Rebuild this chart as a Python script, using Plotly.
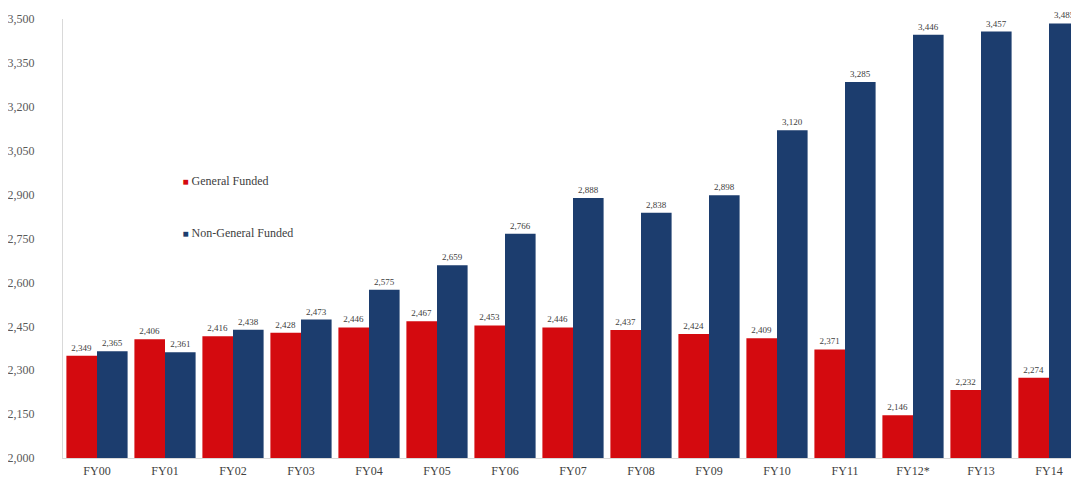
import plotly.graph_objects as go

categories = ["FY00", "FY01", "FY02", "FY03", "FY04", "FY05", "FY06", "FY07",
              "FY08", "FY09", "FY10", "FY11", "FY12*", "FY13", "FY14"]
general_funded = [2349, 2406, 2416, 2428, 2446, 2467, 2453, 2446,
                  2437, 2424, 2409, 2371, 2146, 2232, 2274]
non_general_funded = [2365, 2361, 2438, 2473, 2575, 2659, 2766, 2888,
                      2838, 2898, 3120, 3285, 3446, 3457, 3485]
y_ticks = [2000, 2150, 2300, 2450, 2600, 2750, 2900, 3050, 3200, 3350, 3500]

RED = "#D40A0F"
BLUE = "#1C3D6E"
SERIF = "Liberation Serif, Times New Roman, serif"
LABEL_FONT = dict(family=SERIF, size=9, color="#404040")

fig = go.Figure()
fig.add_trace(go.Bar(
    name="General Funded", x=categories, y=general_funded,
    marker=dict(color=RED, line=dict(width=0)),
    texttemplate="%{y:,}", textposition="outside",
    textfont=LABEL_FONT, outsidetextfont=LABEL_FONT,
    cliponaxis=False, showlegend=False,
))
fig.add_trace(go.Bar(
    name="Non-General Funded", x=categories, y=non_general_funded,
    marker=dict(color=BLUE, line=dict(width=0)),
    texttemplate="%{y:,}", textposition="outside",
    textfont=LABEL_FONT, outsidetextfont=LABEL_FONT,
    cliponaxis=False, showlegend=False,
))
# legend entries: coloured square glyph placed right before the label text
fig.add_trace(go.Scatter(
    name=f"<span style='color:{RED};font-size:10px'>■</span> General Funded",
    x=[None], y=[None], mode="markers",
    marker=dict(symbol="square", size=1, color="rgba(0,0,0,0)"), legendgroup="g1",
))
fig.add_trace(go.Scatter(
    name=f"<span style='color:{BLUE};font-size:10px'>■</span> Non-General Funded",
    x=[None], y=[None], mode="markers",
    marker=dict(symbol="square", size=1, color="rgba(0,0,0,0)"), legendgroup="g2",
))

fig.update_layout(
    width=1079, height=486,
    margin=dict(l=55, r=4, t=11, b=36, autoexpand=False),
    paper_bgcolor="white", plot_bgcolor="white",
    barmode="group", bargap=0.1, bargroupgap=0.0,
    font=dict(family=SERIF, color="#404040"),
    showlegend=True,
    legend=dict(
        x=0.078, y=0.665, xanchor="left", yanchor="top",
        bgcolor="rgba(0,0,0,0)", font=dict(family=SERIF, size=12, color="#404040"),
        traceorder="grouped", tracegroupgap=33, itemwidth=30,
    ),
    yaxis=dict(
        range=[2000, 3500], tickvals=y_ticks, tickformat=",d",
        showgrid=False, zeroline=False, showline=True, linecolor="#D9D9D9",
        ticks="", ticklabelstandoff=25, automargin=False,
        tickfont=dict(family=SERIF, size=12, color="#595959"),
    ),
    xaxis=dict(
        showgrid=False, showline=True, linecolor="#D9D9D9", ticks="",
        automargin=False, ticklabelstandoff=2,
        tickfont=dict(family=SERIF, size=12, color="#404040"),
    ),
)

fig.write_html("out.html")
